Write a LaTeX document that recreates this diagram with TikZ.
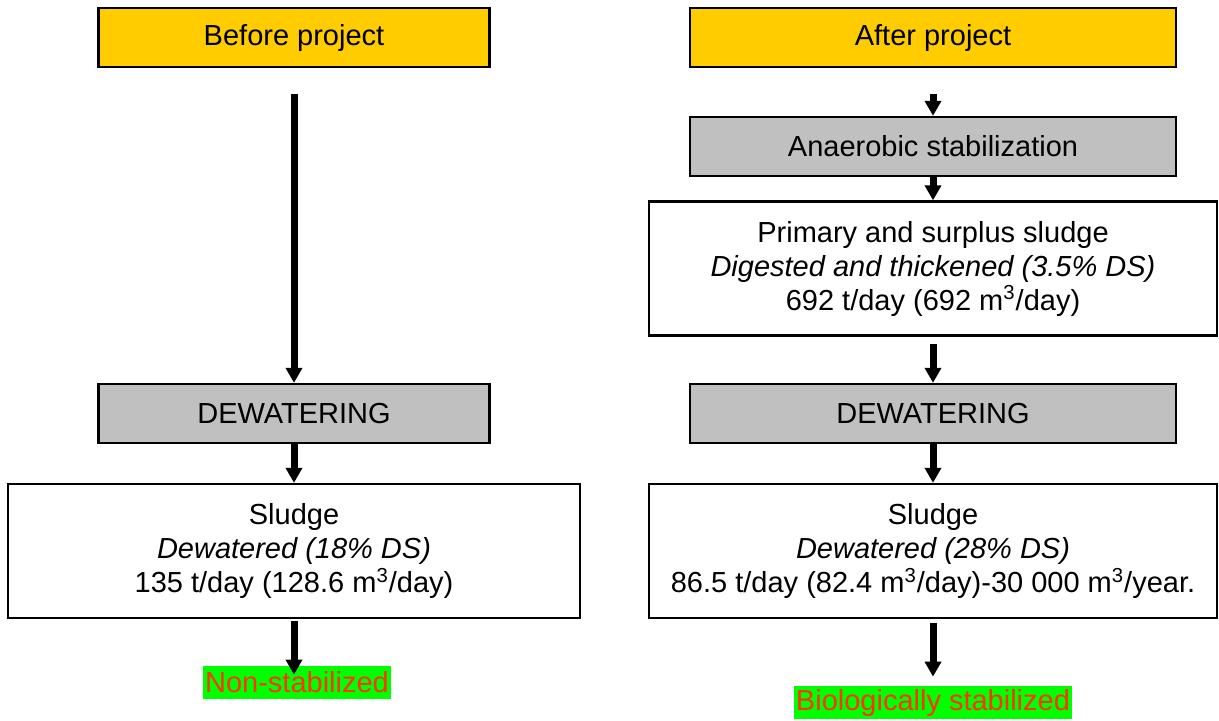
\documentclass[tikz,border=0pt]{standalone}
\usepackage{fontspec}
\setmainfont{Liberation Sans}
\usetikzlibrary{arrows.meta}
\definecolor{projyellow}{HTML}{FFCC00}
\definecolor{stepgray}{HTML}{C0C0C0}
\definecolor{labgreen}{HTML}{00FF00}
\definecolor{labred}{HTML}{FF3300}
\newcommand{\boxfont}{\fontsize{14.5}{17}\selectfont}

\begin{document}
\begin{tikzpicture}[x=0.5pt,y=-0.5pt,
  head/.style={draw,line width=1.2pt,fill=projyellow,minimum height=29.5pt,font=\boxfont},
  stage/.style={draw,line width=1.2pt,fill=stepgray,minimum height=29.5pt,font=\boxfont},
  info/.style={draw,line width=1.2pt,fill=white,align=center,minimum height=67pt,font=\boxfont},
  result/.style={fill=labgreen,text=labred,inner xsep=1pt,inner ysep=0pt,minimum height=16.5pt,font=\boxfont},
  ar/.style={-{Triangle[width=8pt,length=7.5pt]},line width=3.5pt}]
\useasboundingbox (0,0) rectangle (1219,720);

% before project
\node[head,minimum width=195.5pt] (before) at (294,37.5) {Before project};
\node[stage,minimum width=195.5pt] (dwL) at (294,413.5) {DEWATERING};
\node[info,minimum width=286pt] (sludgeL) at (294,551)
  {Sludge\\ \textit{Dewatered (18\% DS)}\\ 135 t/day (128.6 m\textsuperscript{3}/day)};
\node[result] (nonstab) at (297,682.5) {Non-stabilized};

% after project
\node[head,minimum width=243pt] (after) at (933,37.5) {After project};
\node[stage,minimum width=243pt] (anaer) at (933,146.5) {Anaerobic stabilization};
\node[info,minimum width=284pt] (primary) at (933,268.5)
  {Primary and surplus sludge\\ \textit{Digested and thickened (3.5\% DS)}\\ 692 t/day (692 m\textsuperscript{3}/day)};
\node[stage,minimum width=243pt] (dwR) at (933,413.5) {DEWATERING};
\node[info,minimum width=284pt] (sludgeR) at (933,551)
  {Sludge\\ \textit{Dewatered (28\% DS)}\\ 86.5 t/day (82.4 m\textsuperscript{3}/day)-30 000 m\textsuperscript{3}/year.};
\node[result] (biostab) at (933,702.5) {Biologically stabilized};

\draw[ar,shorten <=13pt] (before) -- (dwL);
\draw[ar] (dwL) -- (sludgeL);
\draw[ar,shorten <=1pt,shorten >=-4.5pt] (sludgeL.south) -- (sludgeL.south |- nonstab.north);

\draw[ar,shorten <=13pt] (after) -- (anaer);
\draw[ar] (anaer) -- (primary);
\draw[ar,shorten <=3.5pt] (primary) -- (dwR);
\draw[ar] (dwR) -- (sludgeR);
\draw[ar,shorten <=2pt,shorten >=4.5pt] (sludgeR) -- (biostab);
\end{tikzpicture}
\end{document}
